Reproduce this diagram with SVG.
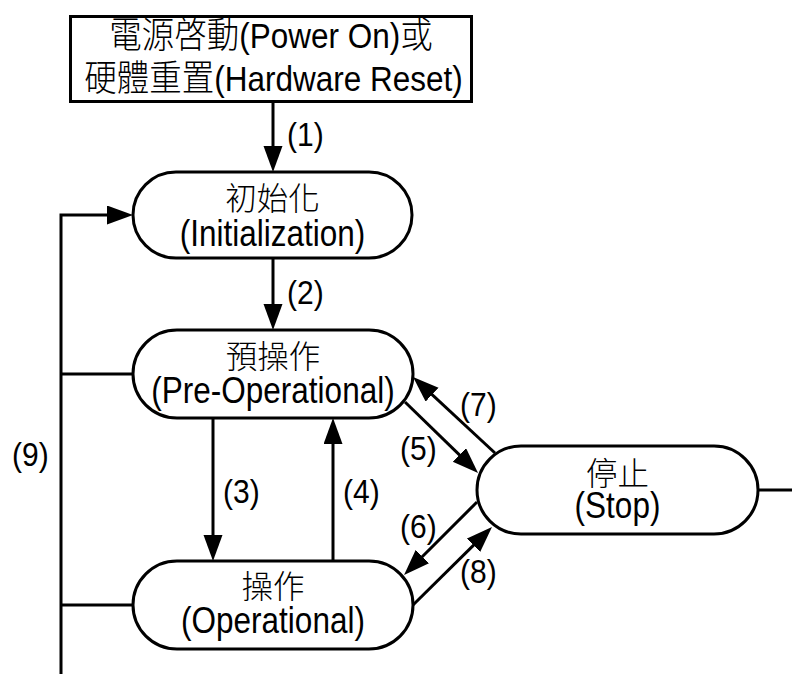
<svg xmlns="http://www.w3.org/2000/svg" width="792" height="675" viewBox="0 0 792 675">
  <style>
    .box { fill: #ffffff; stroke: #000000; stroke-width: 3; }
    .txt { font-family: "Liberation Sans", "Noto Sans CJK TC", Arial, sans-serif; fill: #000000; text-anchor: middle; font-size: 31.5px; }
    .cjk { font-family: "Noto Sans CJK TC", "Noto Sans CJK SC", sans-serif; font-weight: 300; }
    .big { font-size: 32.5px; }
    .lbl { font-family: "Liberation Sans", Arial, sans-serif; font-size: 30px; fill: #000000; }
    .wire { fill: none; stroke: #000000; stroke-width: 3; }
    .arrow { marker-end: url(#head); }
  </style>
  <defs>
    <marker id="head" markerUnits="userSpaceOnUse" markerWidth="26" markerHeight="20" refX="18" refY="9.5" orient="auto">
      <path d="M0,0 L26,9.5 L0,19 Z" fill="#000000"/>
    </marker>
  </defs>

  <rect width="792" height="675" fill="#ffffff"/>

  <!-- connectors and their labels -->
  <g id="connectors">
    <line class="wire arrow" x1="273" y1="102" x2="273" y2="164"/>
    <line class="wire arrow" x1="273" y1="258" x2="273" y2="322"/>
    <line class="wire arrow" x1="213" y1="418" x2="213" y2="553"/>
    <line class="wire arrow" x1="333" y1="561" x2="333" y2="426"/>
    <line class="wire arrow" x1="405" y1="402" x2="472.3" y2="467.4"/>
    <line class="wire arrow" x1="495" y1="453" x2="418.9" y2="382.4"/>
    <line class="wire arrow" x1="477" y1="502" x2="409.7" y2="569.3"/>
    <line class="wire arrow" x1="413" y1="605" x2="486.3" y2="532.6"/>
    <!-- return path (9) back to initialization -->
    <polyline class="wire arrow" points="61,674 61,215 125,215"/>
    <line class="wire" x1="61" y1="374" x2="133" y2="374"/>
    <line class="wire" x1="61" y1="605" x2="133" y2="605"/>
    <line class="wire" x1="758" y1="490" x2="792" y2="490"/>

    <text class="lbl" transform="translate(287,146) scale(1,1.08)">(1)</text>
    <text class="lbl" transform="translate(287,304) scale(1,1.08)">(2)</text>
    <text class="lbl" transform="translate(223,503) scale(1,1.08)">(3)</text>
    <text class="lbl" transform="translate(343,503) scale(1,1.08)">(4)</text>
    <text class="lbl" transform="translate(400,460) scale(1,1.08)">(5)</text>
    <text class="lbl" transform="translate(400,538) scale(1,1.08)">(6)</text>
    <text class="lbl" transform="translate(460,416) scale(1,1.08)">(7)</text>
    <text class="lbl" transform="translate(460,583) scale(1,1.08)">(8)</text>
    <text class="lbl" transform="translate(12,466) scale(1,1.08)">(9)</text>
  </g>

  <g id="power-on">
    <rect class="box" x="70.5" y="16.5" width="401" height="85"/>
    <text class="txt" transform="translate(271,47.5) scale(1,1.12)"><tspan class="cjk big">電源啓動</tspan>(Power On)<tspan class="cjk big">或</tspan></text>
    <text class="txt" transform="translate(273.5,90.5) scale(1,1.12)"><tspan class="cjk big">硬體重置</tspan>(Hardware Reset)</text>
  </g>

  <g id="init">
    <rect class="box" x="133" y="172" width="279" height="86" rx="43"/>
    <text class="txt cjk" x="272.5" y="210">初始化</text>
    <text class="txt" transform="translate(272.5,245.5) scale(1,1.15)">(Initialization)</text>
  </g>

  <g id="preop">
    <rect class="box" x="133" y="330" width="280" height="88" rx="44"/>
    <text class="txt cjk" x="273" y="368">預操作</text>
    <text class="txt" transform="translate(273,402.5) scale(1,1.15)">(Pre-Operational)</text>
  </g>

  <g id="op">
    <rect class="box" x="133" y="561" width="280" height="88" rx="44"/>
    <text class="txt cjk" x="273" y="598">操作</text>
    <text class="txt" transform="translate(273,632.5) scale(1,1.15)">(Operational)</text>
  </g>

  <g id="stop">
    <rect class="box" x="477" y="446" width="281" height="88" rx="44"/>
    <text class="txt cjk" x="617.5" y="485">停止</text>
    <text class="txt" transform="translate(617.5,518) scale(1,1.15)">(Stop)</text>
  </g>
</svg>
